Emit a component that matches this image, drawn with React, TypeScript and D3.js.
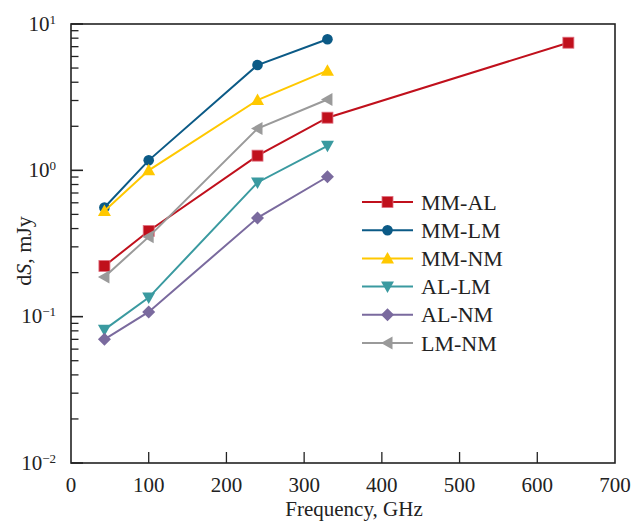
import React from "react";
import * as d3 from "d3";

const freqs = [43, 100, 240, 330];
const mmAL = [0.222, 0.385, 1.26, 2.29, 7.45];
const mmALFreqs = [43, 100, 240, 330, 640];
const mmLM = [0.557, 1.17, 5.24, 7.86];
const mmNM = [0.528, 1.0, 3.02, 4.8];
const alLM = [0.0815, 0.135, 0.826, 1.47];
const alNM = [0.07, 0.1077, 0.473, 0.904];
const lmNM = [0.187, 0.351, 1.93, 3.05];

const xTicks = [0, 100, 200, 300, 400, 500, 600, 700];
const yExps = [1, 0, -1, -2];

type Series = { name: string; x: number[]; y: number[]; color: string; marker: string };
const series: Series[] = [
  { name: "MM-AL", x: mmALFreqs, y: mmAL, color: "#c0101c", marker: "square" },
  { name: "MM-LM", x: freqs, y: mmLM, color: "#0b5a86", marker: "circle" },
  { name: "MM-NM", x: freqs, y: mmNM, color: "#ffc800", marker: "up" },
  { name: "AL-LM", x: freqs, y: alLM, color: "#3a9aa0", marker: "down" },
  { name: "AL-NM", x: freqs, y: alNM, color: "#7a6a9e", marker: "diamond" },
  { name: "LM-NM", x: freqs, y: lmNM, color: "#9a9a9a", marker: "left" },
];

const L = 71, R = 615, T = 24, B = 463;

function Marker({ type, cx, cy, color }: { type: string; cx: number; cy: number; color: string }) {
  switch (type) {
    case "square":
      return <rect x={cx - 5.5} y={cy - 5.5} width={11} height={11} fill={color} stroke="#e07080" strokeWidth={0.8} />;
    case "circle":
      return <circle cx={cx} cy={cy} r={5.3} fill={color} />;
    case "up":
      return <path d={`M${cx},${cy - 6.5}L${cx + 6.5},${cy + 5}L${cx - 6.5},${cy + 5}Z`} fill={color} />;
    case "down":
      return <path d={`M${cx},${cy + 6.5}L${cx + 6.5},${cy - 5}L${cx - 6.5},${cy - 5}Z`} fill={color} />;
    case "diamond":
      return <path d={`M${cx},${cy - 6.5}L${cx + 6.5},${cy}L${cx},${cy + 6.5}L${cx - 6.5},${cy}Z`} fill={color} />;
    case "left":
      return <path d={`M${cx - 6.5},${cy}L${cx + 5},${cy - 6.5}L${cx + 5},${cy + 6.5}Z`} fill={color} />;
  }
  return null;
}

export default function App() {
  const x = d3.scaleLinear().domain([0, 700]).range([L, R]);
  const y = d3.scaleLog().domain([0.01, 10]).range([B, T]);
  const line = d3.line<[number, number]>().x((d) => x(d[0])).y((d) => y(d[1]));

  const minor: number[] = [];
  for (let e = -2; e < 1; e++) for (let k = 2; k <= 9; k++) minor.push(k * Math.pow(10, e));

  const font = "'Liberation Serif', 'Times New Roman', serif";
  const legendX = 362, legendY0 = 202, legendDy = 28.2;

  return (
    <svg width={632} height={521} style={{ position: "absolute", left: 0, top: 0, fontFamily: font }}>
      <rect width={632} height={521} fill="#fff" />
      {series.map((s) => (
        <g key={s.name}>
          <path d={line(s.x.map((v, i) => [v, s.y[i]]) as [number, number][]) || ""} fill="none" stroke={s.color} strokeWidth={2} />
          {s.x.map((v, i) => (
            <Marker key={i} type={s.marker} cx={x(v)} cy={y(s.y[i])} color={s.color} />
          ))}
        </g>
      ))}
      <rect x={L} y={T} width={R - L} height={B - T} fill="none" stroke="#222" strokeWidth={1.6} />
      {yExps.map((e) => (
        <g key={e}>
          <line x1={L} x2={L + 12} y1={y(Math.pow(10, e))} y2={y(Math.pow(10, e))} stroke="#222" strokeWidth={1.6} />
          <text x={56} y={y(Math.pow(10, e)) + 6.5} textAnchor="end" fontSize={21} fill="#222">
            10
            <tspan dy={-7} fontSize={13}>{e < 0 ? "\u2212" + Math.abs(e) : String(e)}</tspan>
          </text>
        </g>
      ))}
      {minor.map((v, i) => (
        <line key={i} x1={L} x2={L + 7.5} y1={y(v)} y2={y(v)} stroke="#222" strokeWidth={1.3} />
      ))}
      {xTicks.map((t) => (
        <g key={t}>
          {t > 0 && t < 700 && <line x1={x(t)} x2={x(t)} y1={B} y2={B - 11} stroke="#222" strokeWidth={1.3} />}
          <text x={x(t)} y={492} textAnchor="middle" fontSize={21} fill="#222">{t}</text>
        </g>
      ))}
      <text x={354} y={516} textAnchor="middle" fontSize={21} fill="#222">Frequency, GHz</text>
      <text transform={`translate(31,251) rotate(-90)`} textAnchor="middle" fontSize={22} fill="#222">
        d<tspan fontStyle="italic">S</tspan>, mJy
      </text>
      {series.map((s, i) => {
        const cy = legendY0 + i * legendDy;
        return (
          <g key={s.name}>
            <line x1={legendX} x2={legendX + 51} y1={cy} y2={cy} stroke={s.color} strokeWidth={2} />
            <Marker type={s.marker} cx={legendX + 25.5} cy={cy} color={s.color} />
            <text x={421} y={cy + 7.5} fontSize={22} fill="#222">{s.name}</text>
          </g>
        );
      })}
    </svg>
  );
}
